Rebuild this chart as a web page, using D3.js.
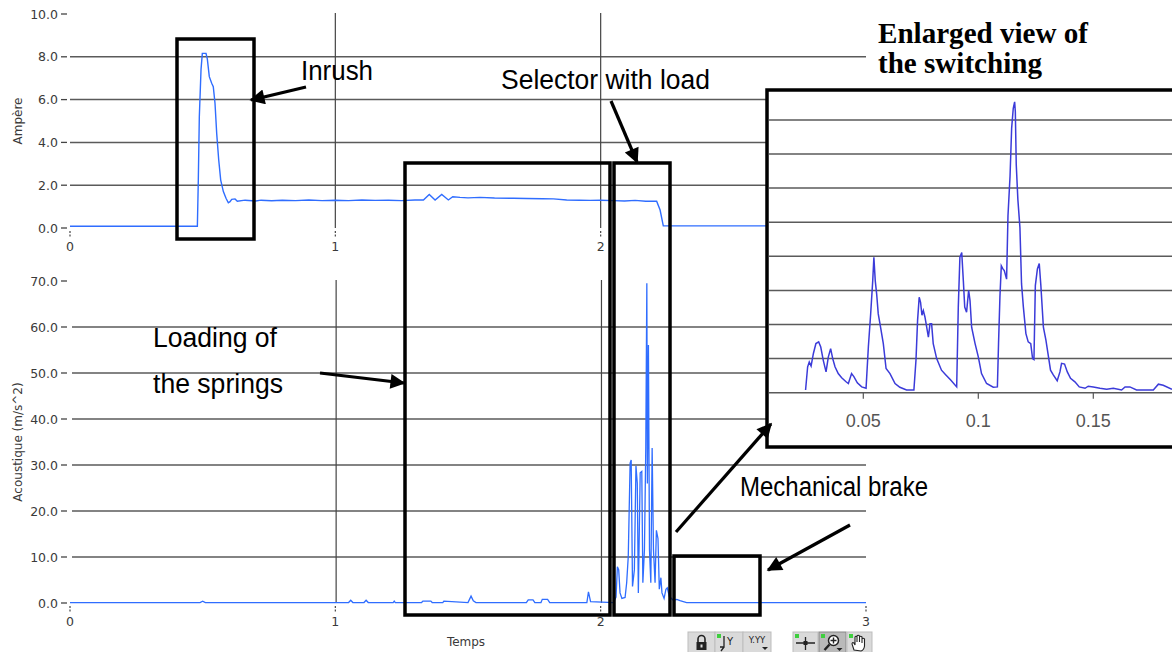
<!DOCTYPE html>
<html>
<head>
<meta charset="utf-8">
<script src="https://cdn.jsdelivr.net/npm/d3@7"></script>
<style>
  html, body { margin: 0; padding: 0; background: #fff; }
  svg { display: block; }
  .tick-label { font-family: "DejaVu Sans", Verdana, sans-serif; font-size: 12.5px; fill: #3a3a3a; }
  .axis-title { font-family: "DejaVu Sans", Verdana, sans-serif; font-size: 12px; fill: #3a3a3a; }
  .note { font-family: "Liberation Sans", Arial, sans-serif; font-size: 27px; fill: #000; }
  .note-serif { font-family: "Liberation Serif", "Times New Roman", serif; font-weight: bold; font-size: 29px; fill: #000; }
  .zoom-label { font-family: "Liberation Sans", Arial, sans-serif; font-size: 18px; fill: #555; }
</style>
</head>
<body>
<svg id="chart" width="1172" height="652"></svg>
<script>
// Motor current during one operation, [time s, current A]
const currentTrace = [
  [0, 0.08], [0.48, 0.08], [0.4836, 2.24], [0.4874, 5.2], [0.4938, 7.4], [0.4987, 8.16],
  [0.5126, 8.16], [0.5175, 7.9], [0.525, 7.07], [0.534, 6.76], [0.540, 6.6], [0.5465, 5.83],
  [0.553, 4.4], [0.5605, 3.18], [0.568, 2.24], [0.578, 1.7], [0.588, 1.39], [0.5967, 1.18],
  [0.603, 1.23], [0.6095, 1.34], [0.622, 1.36], [0.6306, 1.25], [0.66, 1.3], [0.70, 1.26],
  [0.72, 1.3], [0.76, 1.27], [0.80, 1.3], [0.85, 1.28], [0.90, 1.31], [0.95, 1.28], [1.0, 1.3],
  [1.05, 1.28], [1.1, 1.31], [1.15, 1.29], [1.2, 1.3], [1.25, 1.28], [1.30, 1.31], [1.332, 1.31],
  [1.354, 1.57], [1.376, 1.31], [1.401, 1.57], [1.426, 1.31], [1.4425, 1.46], [1.47, 1.43],
  [1.50, 1.41], [1.545, 1.43], [1.60, 1.40], [1.671, 1.39], [1.72, 1.38], [1.78, 1.37],
  [1.822, 1.36], [1.872, 1.31], [1.92, 1.30], [1.96, 1.29], [2.0, 1.30], [2.048, 1.28],
  [2.09, 1.26], [2.13, 1.29], [2.17, 1.25], [2.211, 1.25], [2.224, 0.84], [2.236, 0.1],
  [2.5, 0.1], [3.0, 0.1]
];

// Acoustic (vibration) signal, [time s, m/s^2]
const acousticTrace = [
  [0, 0.1], [0.49, 0.1], [0.5, 0.4], [0.51, 0.1], [1.05, 0.1], [1.058, 0.6], [1.066, 0.1],
  [1.108, 0.1], [1.116, 0.6], [1.124, 0.1], [1.218, 0.1], [1.222, 0.4], [1.226, 0.1],
  [1.325, 0.1], [1.33, 0.4], [1.36, 0.4], [1.365, 0.1], [1.405, 0.1], [1.409, 0.4], [1.5, 0.1],
  [1.5115, 1.5], [1.52, 0.5], [1.53, 0.1], [1.72, 0.1], [1.727, 0.7], [1.745, 0.7], [1.752, 0.1],
  [1.775, 0.1], [1.78, 0.8], [1.8, 0.8], [1.808, 0.1], [1.948, 0.1], [1.954, 2.4], [1.962, 0.3],
  [2.048, 0.1], [2.058, 1.3], [2.063, 7.9], [2.068, 7.2], [2.073, 2.2], [2.080, 1.0], [2.092, 1.2],
  [2.098, 4.4], [2.104, 10.1], [2.111, 30.4], [2.115, 31.1], [2.120, 3.6], [2.127, 7.2],
  [2.133, 29.8], [2.138, 26.0], [2.142, 2.2], [2.149, 28.3], [2.155, 28.6], [2.159, 4.4],
  [2.165, 11.6], [2.170, 33.7], [2.174, 69.5], [2.176, 26.0], [2.180, 56.1], [2.184, 11.6],
  [2.189, 4.4], [2.194, 33.7], [2.199, 11.6], [2.205, 4.4], [2.210, 15.8], [2.216, 14.0],
  [2.221, 3.0], [2.227, 5.5], [2.231, 2.2], [2.239, 1.0], [2.246, 3.0], [2.251, 3.3], [2.259, 1.4],
  [2.274, 0.6], [2.287, 0.8], [2.299, 0.5], [2.324, 0.1], [3.0, 0.1]
];

// Detail of the switching burst, [time s, amplitude]
const switchingTrace = [
  [0.0249, 0.8], [0.0258, 7.6], [0.0265, 9.0], [0.0273, 7.8], [0.0283, 11.5], [0.0294, 14.4],
  [0.0306, 14.9], [0.0315, 13.4], [0.0326, 9.5], [0.0338, 6.1], [0.0348, 10.5], [0.0358, 12.9],
  [0.0367, 10.0], [0.0377, 7.6], [0.0391, 5.6], [0.0406, 4.4], [0.0425, 3.2], [0.0435, 2.7],
  [0.0449, 5.6], [0.0459, 4.7], [0.0474, 2.9], [0.0493, 1.7], [0.0512, 1.3], [0.0522, 13.4],
  [0.0532, 23.1], [0.0541, 32.8], [0.0546, 39.7], [0.0552, 32.8], [0.0558, 29.0], [0.0565, 23.1],
  [0.0575, 19.2], [0.0587, 14.4], [0.0599, 7.1], [0.0616, 5.6], [0.0638, 2.7], [0.0659, 1.6],
  [0.0688, 0.8], [0.0720, 0.8], [0.0729, 9.5], [0.0736, 21.2], [0.0743, 28.0], [0.0749, 26.5],
  [0.0755, 22.7], [0.0761, 24.1], [0.0768, 22.2], [0.0783, 16.3], [0.0790, 20.2], [0.0797, 20.2],
  [0.0804, 14.4], [0.0819, 10.0], [0.0840, 6.6], [0.0859, 5.2], [0.0880, 3.7], [0.0906, 1.7],
  [0.0913, 25.1], [0.0920, 39.7], [0.0928, 41.1], [0.0935, 32.8], [0.0941, 25.1], [0.0949, 23.6],
  [0.0958, 30.0], [0.0964, 27.0], [0.0971, 19.2], [0.0986, 14.4], [0.1000, 10.5], [0.1014, 5.6],
  [0.1036, 2.7], [0.1065, 1.6], [0.1083, 1.7], [0.1088, 14.4], [0.1094, 28.0], [0.1100, 37.2],
  [0.1107, 36.3], [0.1113, 35.8], [0.1123, 33.3], [0.1129, 51.8], [0.1138, 63.5], [0.1145, 77.6],
  [0.1152, 83.4], [0.1158, 85.3], [0.1161, 82.4], [0.1165, 66.9], [0.1172, 56.7], [0.1181, 48.4],
  [0.1188, 31.9], [0.1196, 25.1], [0.1207, 17.3], [0.1217, 14.9], [0.1228, 14.4], [0.1236, 10.0],
  [0.1242, 9.7], [0.1248, 31.4], [0.1257, 36.3], [0.1265, 37.9], [0.1272, 31.4], [0.1283, 19.2],
  [0.1294, 15.4], [0.1304, 11.0], [0.1314, 6.6], [0.1326, 5.2], [0.1343, 3.5], [0.1355, 6.1],
  [0.1362, 8.6], [0.1375, 8.4], [0.1387, 6.1], [0.1401, 4.2], [0.1420, 3.2], [0.1439, 1.7],
  [0.1464, 1.3], [0.1478, 1.9], [0.1500, 1.7], [0.1529, 1.3], [0.1558, 1.0], [0.1587, 1.3],
  [0.1623, 0.8], [0.1638, 1.7], [0.1659, 1.7], [0.1688, 0.8], [0.1761, 0.8], [0.1783, 2.5],
  [0.1804, 2.2], [0.1842, 1.0]
];

const timeTicks = [0, 1, 2, 3];
const currentTicks = [0, 2, 4, 6, 8, 10];
const acousticTicks = [0, 10, 20, 30, 40, 50, 60, 70];
const switchingTimeTicks = [0.05, 0.1, 0.15];
const switchingGridLevels = [0, 10, 20, 30, 40, 50, 60, 70, 80];

const svg = d3.select("#chart");
const GRID = "#5a5a5a";
const TRACE = "#2f6dff";

// Scales
const x = d3.scaleLinear().domain([0, 3]).range([70, 866]);
const yCur = d3.scaleLinear().domain([0, 10]).range([228, 14]);
const yAcc = d3.scaleLinear().domain([0, 70]).range([603, 281]);
const xSw = d3.scaleLinear().domain([0.05, 0.15]).range([863.3, 1093.3]);
const ySw = d3.scaleLinear().domain([0, 80]).range([392.7, 119.9]);

// Arrow head marker
svg.append("defs").append("marker")
  .attr("id", "head").attr("viewBox", "0 0 10 10")
  .attr("refX", 9).attr("refY", 5)
  .attr("markerUnits", "userSpaceOnUse")
  .attr("markerWidth", 20).attr("markerHeight", 15)
  .attr("orient", "auto")
  .append("path").attr("d", "M0,0 L10,5 L0,10 z").attr("fill", "#000");

function yAxisLabels(g, scale, ticks) {
  g.selectAll(null).data(ticks).join("text")
    .attr("class", "tick-label")
    .attr("x", 58).attr("y", d => scale(d) + 4.5)
    .attr("text-anchor", "end")
    .text(d => d3.format(".1f")(d));
  g.selectAll(null).data(ticks).join("line")
    .attr("x1", 61).attr("x2", 67)
    .attr("y1", d => scale(d)).attr("y2", d => scale(d))
    .attr("stroke", "#444").attr("stroke-width", 1.3);
}

function xAxisLabels(g, baseY, ticks) {
  g.selectAll(null).data(ticks).join("line")
    .attr("x1", d => x(d)).attr("x2", d => x(d))
    .attr("y1", baseY + 3).attr("y2", baseY + 9)
    .attr("stroke", "#444").attr("stroke-width", 1.2)
    .attr("stroke-dasharray", "2,1.5");
  g.selectAll(null).data(ticks).join("text")
    .attr("class", "tick-label")
    .attr("x", d => x(d)).attr("y", baseY + 23)
    .attr("text-anchor", "middle")
    .text(d => d);
}

// ---- Current panel ----
const currentPanel = svg.append("g");
currentPanel.selectAll(null).data(currentTicks.filter(d => d > 0 && d < 10)).join("line")
  .attr("x1", x(0)).attr("x2", x(3))
  .attr("y1", d => yCur(d)).attr("y2", d => yCur(d))
  .attr("stroke", GRID).attr("stroke-width", 1.5);
currentPanel.selectAll(null).data([1, 2]).join("line")
  .attr("x1", d => x(d)).attr("x2", d => x(d))
  .attr("y1", yCur(10) - 1).attr("y2", yCur(0))
  .attr("stroke", "#444").attr("stroke-width", 1.2);
yAxisLabels(currentPanel, yCur, currentTicks);
xAxisLabels(currentPanel, yCur(0), [0, 1, 2]);
currentPanel.append("path").datum(currentTrace)
  .attr("fill", "none").attr("stroke", TRACE).attr("stroke-width", 1.4)
  .attr("d", d3.line().x(d => x(d[0])).y(d => yCur(d[1])));
currentPanel.append("text").attr("class", "axis-title")
  .attr("transform", `translate(22,${(yCur(0) + yCur(10)) / 2}) rotate(-90)`)
  .attr("text-anchor", "middle").text("Ampère");

// ---- Acoustic panel ----
const acousticPanel = svg.append("g");
acousticPanel.selectAll(null).data(acousticTicks.filter(d => d > 0 && d < 70)).join("line")
  .attr("x1", x(0) + 2).attr("x2", x(3))
  .attr("y1", d => yAcc(d)).attr("y2", d => yAcc(d))
  .attr("stroke", GRID).attr("stroke-width", 1.5);
acousticPanel.selectAll(null).data([1, 2]).join("line")
  .attr("x1", d => x(d) + 0.8).attr("x2", d => x(d) + 0.8)
  .attr("y1", yAcc(70) - 1).attr("y2", yAcc(0))
  .attr("stroke", "#444").attr("stroke-width", 1.2);
yAxisLabels(acousticPanel, yAcc, acousticTicks);
xAxisLabels(acousticPanel, yAcc(0), timeTicks);
acousticPanel.append("path").datum(acousticTrace)
  .attr("fill", "none").attr("stroke", TRACE).attr("stroke-width", 1.3)
  .attr("d", d3.line().x(d => x(d[0])).y(d => yAcc(d[1])));
acousticPanel.append("text").attr("class", "axis-title")
  .attr("transform", `translate(22,${(yAcc(0) + yAcc(70)) / 2}) rotate(-90)`)
  .attr("text-anchor", "middle").text("Acoustique (m/s^2)");
acousticPanel.append("text").attr("class", "axis-title")
  .attr("x", 466).attr("y", 646).attr("text-anchor", "middle").text("Temps");

// ---- Highlight frames ----
const frames = svg.append("g").attr("fill", "none").attr("stroke", "#000").attr("stroke-width", 3.5);
const frameBoxes = [
  [177, 39, 254, 239],   // inrush
  [405, 163, 610, 615],  // loading of the springs
  [614, 163, 670, 615],  // selector with load
  [674, 556, 760, 615]   // mechanical brake
];
frames.selectAll("rect").data(frameBoxes).join("rect")
  .attr("x", d => d[0]).attr("y", d => d[1])
  .attr("width", d => d[2] - d[0]).attr("height", d => d[3] - d[1]);

// ---- Inset: enlarged switching ----
const inset = svg.append("g");
inset.append("rect").attr("x", 767).attr("y", 90).attr("width", 420).attr("height", 357)
  .attr("fill", "#fff").attr("stroke", "#000").attr("stroke-width", 3.5);
inset.selectAll(null).data(switchingGridLevels).join("line")
  .attr("x1", 769).attr("x2", 1172)
  .attr("y1", d => ySw(d)).attr("y2", d => ySw(d))
  .attr("stroke", GRID).attr("stroke-width", 1.5);
inset.selectAll(null).data(switchingTimeTicks).join("line")
  .attr("x1", d => xSw(d)).attr("x2", d => xSw(d))
  .attr("y1", ySw(0)).attr("y2", ySw(0) + 6)
  .attr("stroke", "#555").attr("stroke-width", 1.2);
inset.selectAll(null).data(switchingTimeTicks).join("text")
  .attr("class", "zoom-label")
  .attr("x", d => xSw(d)).attr("y", ySw(0) + 34)
  .attr("text-anchor", "middle")
  .text(d => d);
inset.append("path").datum(switchingTrace)
  .attr("fill", "none").attr("stroke", "#3b3bd9").attr("stroke-width", 1.5)
  .attr("d", d3.line().x(d => xSw(d[0])).y(d => ySw(d[1])));

// ---- Arrows ----
const arrows = [
  [306, 87, 251, 100],
  [611, 101, 637, 162],
  [320, 373, 404, 383],
  [676, 532, 771, 424],
  [850, 525, 768, 570]
];
svg.append("g").selectAll("line").data(arrows).join("line")
  .attr("x1", d => d[0]).attr("y1", d => d[1])
  .attr("x2", d => d[2]).attr("y2", d => d[3])
  .attr("stroke", "#000").attr("stroke-width", 3.2)
  .attr("marker-end", "url(#head)");

// ---- Annotations ----
const notes = [
  { text: "Inrush", x: 301, y: 80, w: 72 },
  { text: "Selector with load", x: 501, y: 89, w: 209 },
  { text: "Loading of", x: 153, y: 347, w: 124 },
  { text: "the springs", x: 153, y: 393, w: 130 },
  { text: "Mechanical brake", x: 740, y: 496, w: 188 }
];
svg.append("g").selectAll("text").data(notes).join("text")
  .attr("class", "note")
  .attr("x", d => d.x).attr("y", d => d.y)
  .attr("textLength", d => d.w).attr("lengthAdjust", "spacingAndGlyphs")
  .text(d => d.text);
const serifNotes = [
  { text: "Enlarged view of", x: 878, y: 43, w: 210 },
  { text: "the switching", x: 878, y: 73, w: 164 }
];
svg.append("g").selectAll("text").data(serifNotes).join("text")
  .attr("class", "note-serif")
  .attr("x", d => d.x).attr("y", d => d.y)
  .attr("textLength", d => d.w).attr("lengthAdjust", "spacingAndGlyphs")
  .text(d => d.text);

// ---- Graph palette buttons ----
const buttons = [
  { x: 688, w: 27, dot: false, pressed: false, kind: "lock" },
  { x: 715, w: 28, dot: true, pressed: false, kind: "scale" },
  { x: 743, w: 28, dot: false, pressed: false, kind: "format" },
  { x: 793, w: 25, dot: true, pressed: false, kind: "cursor" },
  { x: 819, w: 27, dot: true, pressed: true, kind: "zoom" },
  { x: 847, w: 25, dot: true, pressed: false, kind: "hand" }
];
const pal = svg.append("g");
buttons.forEach(b => {
  const g = pal.append("g").attr("transform", `translate(${b.x},632)`);
  g.append("rect").attr("width", b.w).attr("height", 21)
    .attr("fill", b.pressed ? "#b9b9b9" : "#dadada")
    .attr("stroke", b.pressed ? "#888" : "#bdbdbd").attr("stroke-width", 1);
  const c = b.w / 2;
  const ink = "#222";
  if (b.kind === "lock") {
    g.append("path").attr("d", `M${c - 3.5},10 v-3 a3.5,3.5 0 0 1 7,0 v3`)
      .attr("fill", "none").attr("stroke", ink).attr("stroke-width", 1.6);
    g.append("rect").attr("x", c - 5).attr("y", 10).attr("width", 10).attr("height", 8).attr("fill", ink);
    g.append("rect").attr("x", c - 1).attr("y", 12.5).attr("width", 2).attr("height", 3).attr("fill", "#ddd");
  } else if (b.kind === "scale") {
    g.append("path").attr("d", "M9,4 V15 H5 M9,15 L6,19").attr("fill", "none").attr("stroke", ink).attr("stroke-width", 1.3);
    g.append("text").attr("x", 12).attr("y", 13).attr("font-family", "DejaVu Sans").attr("font-size", 10).attr("fill", ink).text("Y");
  } else if (b.kind === "format") {
    g.append("text").attr("x", c).attr("y", 11).attr("text-anchor", "middle")
      .attr("font-family", "DejaVu Sans").attr("font-size", 8.5).attr("fill", ink).text("Y.YY");
    g.append("path").attr("d", `M${c + 5},15 h6 l-3,3 z`).attr("fill", ink);
  } else if (b.kind === "cursor") {
    g.append("path").attr("d", `M3,11 H${b.w - 3} M${c},5 V18`).attr("stroke", ink).attr("stroke-width", 1.3);
    g.append("rect").attr("x", c - 2).attr("y", 9).attr("width", 4).attr("height", 4).attr("fill", ink);
  } else if (b.kind === "zoom") {
    g.append("circle").attr("cx", c + 1).attr("cy", 8.5).attr("r", 5).attr("fill", "#fff").attr("stroke", ink).attr("stroke-width", 1.5);
    g.append("path").attr("d", `M${c - 2},8.5 h6 M${c + 1},5.5 v6`).attr("stroke", ink).attr("stroke-width", 1.4);
    g.append("path").attr("d", `M${c - 3},12.5 L${c - 8},18`).attr("stroke", ink).attr("stroke-width", 2.4);
    g.append("path").attr("d", `M${c + 4},16 h6 l-3,3 z`).attr("fill", ink);
  } else if (b.kind === "hand") {
    g.append("path")
      .attr("d", `M7,18 L5,12 Q5,10 7,11 L8,13 V5 Q9,3.5 10,5 V10 V4 Q11,2.5 12.5,4 V10 V5 Q13.5,3.5 15,5 V11 V7 Q16,5.5 17.5,7 V14 Q17,18 14,19 Z`)
      .attr("fill", "#fff").attr("stroke", ink).attr("stroke-width", 1.1);
  }
  if (b.dot) {
    g.append("rect").attr("x", 2).attr("y", 2).attr("width", 4).attr("height", 4).attr("fill", "#3fcf3f");
  }
});
</script>
</body>
</html>
